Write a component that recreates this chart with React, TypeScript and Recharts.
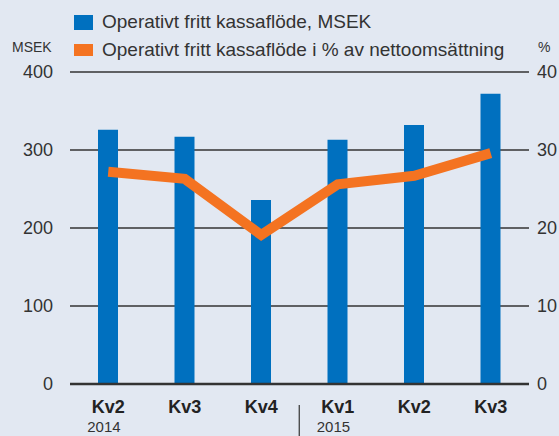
import { ComposedChart, Bar, Line, XAxis, YAxis, CartesianGrid, ReferenceLine } from "recharts";

const quarters = ["Kv2", "Kv3", "Kv4", "Kv1", "Kv2", "Kv3"];
const years = ["2014", "", "", "2015", "", ""];
const cashFlow = [326, 317, 236, 313, 332, 372];
const cashFlowPct = [27.2, 26.3, 19.1, 25.6, 26.7, 29.6];
const leftTicks = [0, 100, 200, 300, 400];
const rightTicks = [0, 10, 20, 30, 40];

const data = quarters.map((q, i) => ({
  q,
  msek: cashFlow[i],
  pct: cashFlowPct[i],
}));

const FONT = "'Liberation Sans', Arial, Helvetica, sans-serif";
const TEXT = "#333333";
const BLUE = "#0070bf";
const ORANGE = "#f47321";
const BG = "#e2e8f2";

function QuarterTick({ x, payload, index }: any) {
  const year = years[index];
  return (
    <g>
      <text x={x} y={413} textAnchor="middle" fontSize={18} fontWeight="bold" fill="#222" fontFamily={FONT}>
        {payload.value}
      </text>
      {year ? (
        <text x={x - 21} y={432} fontSize={15} fill={TEXT} fontFamily={FONT}>
          {year}
        </text>
      ) : null}
      {index === 3 ? <line x1={x - 38.5} x2={x - 38.5} y1={405} y2={436} stroke={TEXT} strokeWidth={1.2} /> : null}
    </g>
  );
}

const legendRows = [
  { label: "Operativt fritt kassaflöde, MSEK", color: BLUE, h: 15 },
  { label: "Operativt fritt kassaflöde i % av nettoomsättning", color: ORANGE, h: 12 },
];

export default function App() {
  return (
    <div style={{ position: "absolute", left: 0, top: 0, width: 559, height: 436, background: BG, overflow: "hidden" }}>
      <ComposedChart width={559} height={436} data={data} margin={{ top: 72, right: 0, bottom: 0, left: 0 }} barCategoryGap={0}>
        <CartesianGrid vertical={false} stroke={TEXT} strokeWidth={1.5} yAxisId="left" />
        <XAxis dataKey="q" height={52} axisLine={false} tickLine={false} tick={<QuarterTick />} interval={0} />
        <YAxis
          yAxisId="left"
          domain={[0, 400]}
          ticks={leftTicks}
          width={70}
          axisLine={false}
          tickLine={false}
          tickSize={0}
          tickMargin={17}
          tick={{ fontSize: 18, fill: TEXT, fontFamily: FONT }}
        />
        <YAxis
          yAxisId="right"
          orientation="right"
          domain={[0, 40]}
          ticks={rightTicks}
          width={30}
          axisLine={false}
          tickLine={false}
          tickSize={0}
          tickMargin={8}
          tick={{ fontSize: 18, fill: TEXT, fontFamily: FONT }}
        />
        <Bar yAxisId="left" dataKey="msek" fill={BLUE} barSize={20} isAnimationActive={false} />
        <ReferenceLine yAxisId="left" y={0} stroke={TEXT} strokeWidth={2.5} />
        <Line
          yAxisId="right"
          dataKey="pct"
          type="linear"
          stroke={ORANGE}
          strokeWidth={10}
          strokeLinecap="butt"
          strokeLinejoin="miter"
          dot={false}
          activeDot={false}
          isAnimationActive={false}
        />
      </ComposedChart>
      <div style={{ position: "absolute", left: 74, top: 8, fontFamily: FONT }}>
        {legendRows.map((r) => (
          <div key={r.label} style={{ display: "flex", alignItems: "center", height: 28 }}>
            <span style={{ display: "inline-block", width: 19, height: r.h, background: r.color, marginRight: 9 }} />
            <span style={{ fontSize: 19, color: TEXT, lineHeight: "20px", whiteSpace: "nowrap" }}>{r.label}</span>
          </div>
        ))}
      </div>
      <div style={{ position: "absolute", left: 12, top: 39, fontSize: 14, color: TEXT, fontFamily: FONT }}>MSEK</div>
      <div style={{ position: "absolute", left: 538, top: 39, fontSize: 14, color: TEXT, fontFamily: FONT }}>%</div>
    </div>
  );
}
